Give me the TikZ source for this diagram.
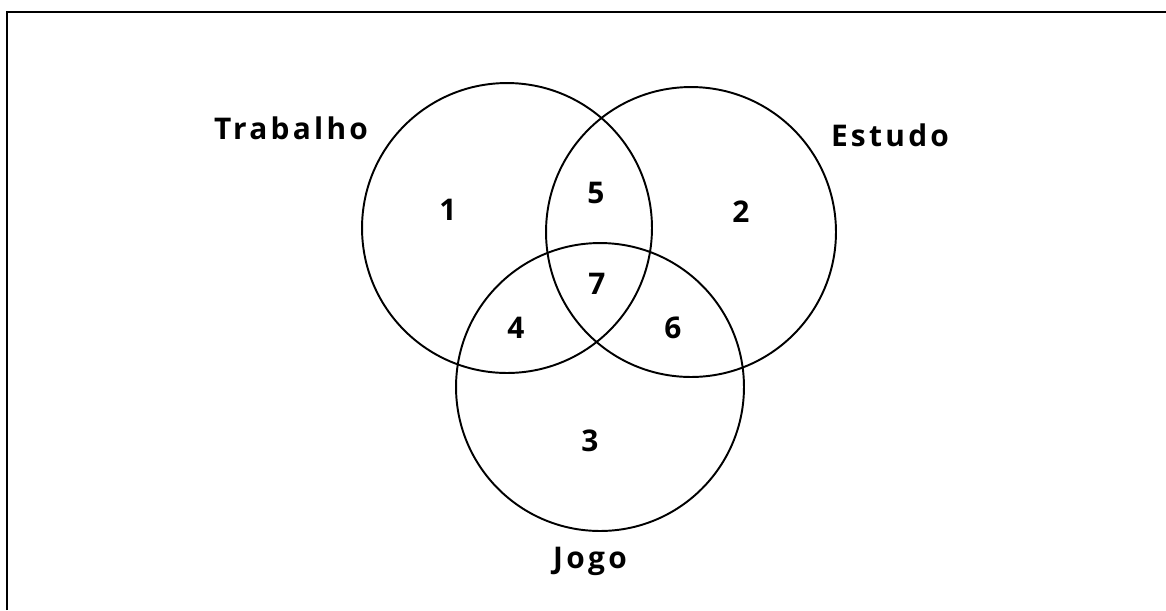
\documentclass[tikz,border=0pt]{standalone}
\usepackage{fontspec}
\setsansfont{Open Sans}
\begin{document}
\begin{tikzpicture}[x=0.02cm, y=-0.02cm, font=\sffamily\bfseries, line width=1.1pt]
  \tikzset{setlabel/.style={anchor=base, font=\fontsize{17pt}{19pt}\sffamily\bfseries\addfontfeature{LetterSpace=11}},
           regionnum/.style={font=\fontsize{17pt}{19pt}\sffamily\bfseries}}
  \useasboundingbox (0,0) rectangle (1166,610);
  \draw[line width=1.6pt] (7,610) -- (7,12) -- (1166,12);
  % sets
  \draw (507,228) circle (2.9cm);
  \draw (691,232) circle (2.9cm);
  \draw (600,387) circle (2.88cm);
  \node[setlabel] (trabalho) at (291,139) {Trabalho};
  \node[setlabel] (estudo) at (890,146) {Estudo};
  \node[setlabel] (jogo) at (590,568) {Jogo};
  % regions
  \node[regionnum] (r1) at (448,210) {1};
  \node[regionnum] (r2) at (741,212) {2};
  \node[regionnum] (r3) at (590,441) {3};
  \node[regionnum] (r4) at (516,328) {4};
  \node[regionnum] (r5) at (596,193) {5};
  \node[regionnum] (r6) at (673,328) {6};
  \node[regionnum] (r7) at (597,284) {7};
\end{tikzpicture}
\end{document}
